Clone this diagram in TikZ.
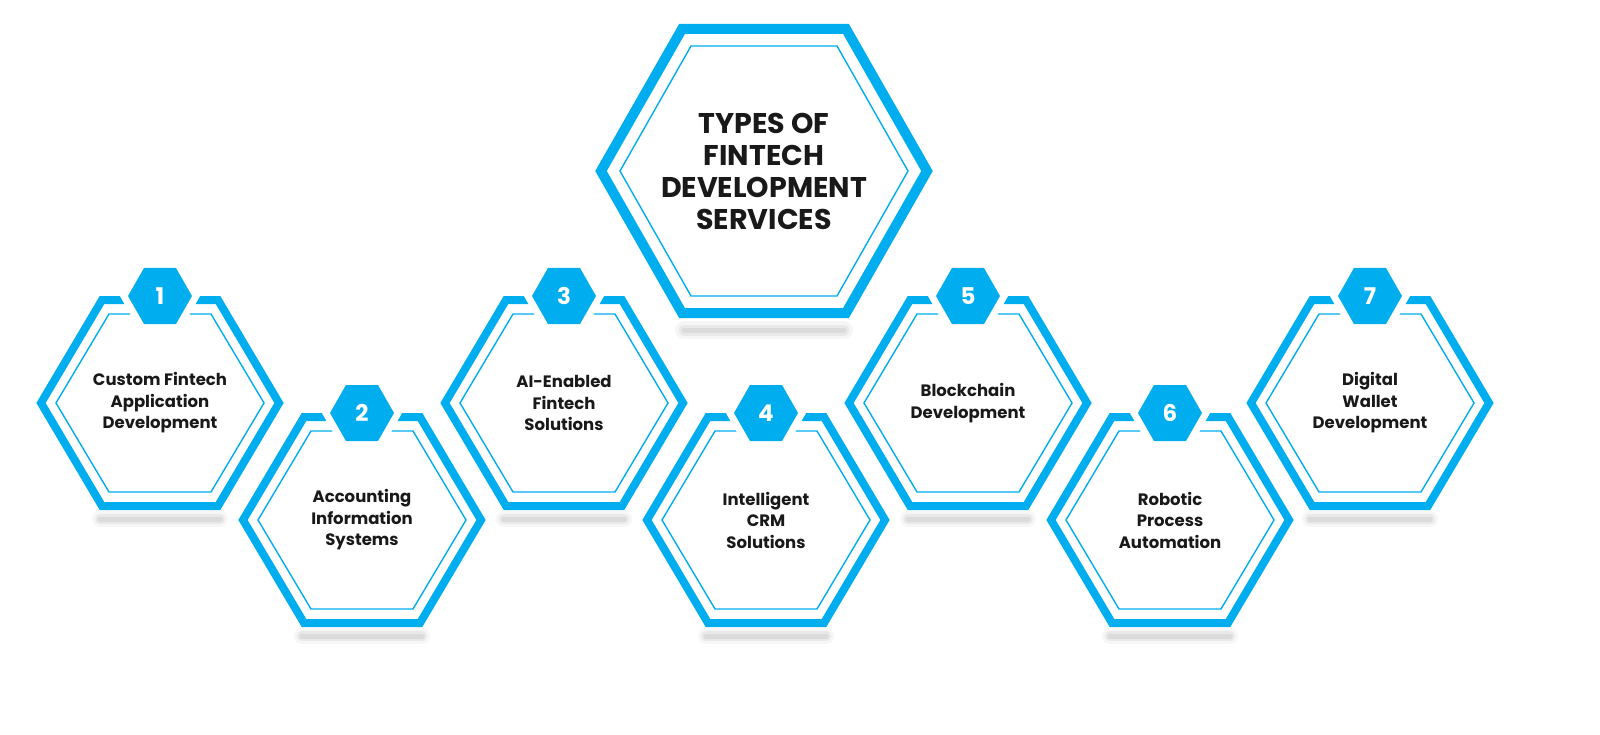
\documentclass[tikz,border=0pt]{standalone}
\usepackage{fontspec}
\setmainfont{Poppins}
\definecolor{cy}{RGB}{0,174,239}
\newcommand\hexp[5]{(#1-#3,#2) -- (#1-#5,#2-#4) -- (#1+#5,#2-#4) -- (#1+#3,#2) -- (#1+#5,#2+#4) -- (#1-#5,#2+#4) -- cycle}
\tikzset{
 thick hex/.style={draw=cy,line width=8pt,line join=miter},
 thin hex/.style={draw=cy,line width=1.4pt},
 lbl/.style={align=center,font=\fontsize{16.5}{21.5}\selectfont\bfseries,text=black!90},
 num/.style={font=\fontsize{23}{23}\selectfont\bfseries,text=white},
}
\newcommand\hexitem[4]{%
 \foreach \w/\o in {16/0.035,10/0.05,5/0.06}{\draw[black,opacity=\o,line width=\w pt,line cap=round] (#1-60,#2+116) -- (#1+60,#2+116);}%
 \fill[white] \hexp{#1}{#2}{119}{103}{58};%
 \draw[thick hex] \hexp{#1}{#2}{119}{103}{58};%
 \draw[thin hex] \hexp{#1}{#2}{104}{89}{51};%
 \draw[white,line width=14pt,fill=cy] \hexp{#1}{#2-107}{32}{28}{16};%
 \fill[cy] \hexp{#1}{#2-107}{32}{28}{16};%
 \node[num] (n#3) at (#1,#2-107) {#3};%
 \node[lbl] (t#3) at (#1,#2) {#4};%
}
\begin{document}
\begin{tikzpicture}[x=1pt,y=-1pt]
\foreach \w/\o in {18/0.035,11/0.05,5/0.06}{\draw[black,opacity=\o,line width=\w pt,line cap=round] (684,330) -- (844,330);}
\fill[white] \hexp{764}{171}{163}{142}{82};
\draw[draw=cy,line width=10pt] \hexp{764}{171}{163}{142}{82};
\draw[thin hex] \hexp{764}{171}{144}{125}{73};
\node[align=center,font=\fontsize{28.5}{32}\selectfont\bfseries,text=black!90] (title) at (764,171) {TYPES OF\\FINTECH\\DEVELOPMENT\\SERVICES};
\hexitem{160}{403}{1}{Custom Fintech\\Application\\Development}
\hexitem{362}{520}{2}{Accounting\\Information\\Systems}
\hexitem{564}{403}{3}{AI-Enabled\\Fintech\\Solutions}
\hexitem{766}{520}{4}{Intelligent\\CRM\\Solutions}
\hexitem{968}{403}{5}{Blockchain\\Development}
\hexitem{1170}{520}{6}{Robotic\\Process\\Automation}
\hexitem{1370}{403}{7}{Digital\\Wallet\\Development}
\pgfresetboundingbox
\useasboundingbox (0,0) rectangle (1600,735);
\end{tikzpicture}
\end{document}
